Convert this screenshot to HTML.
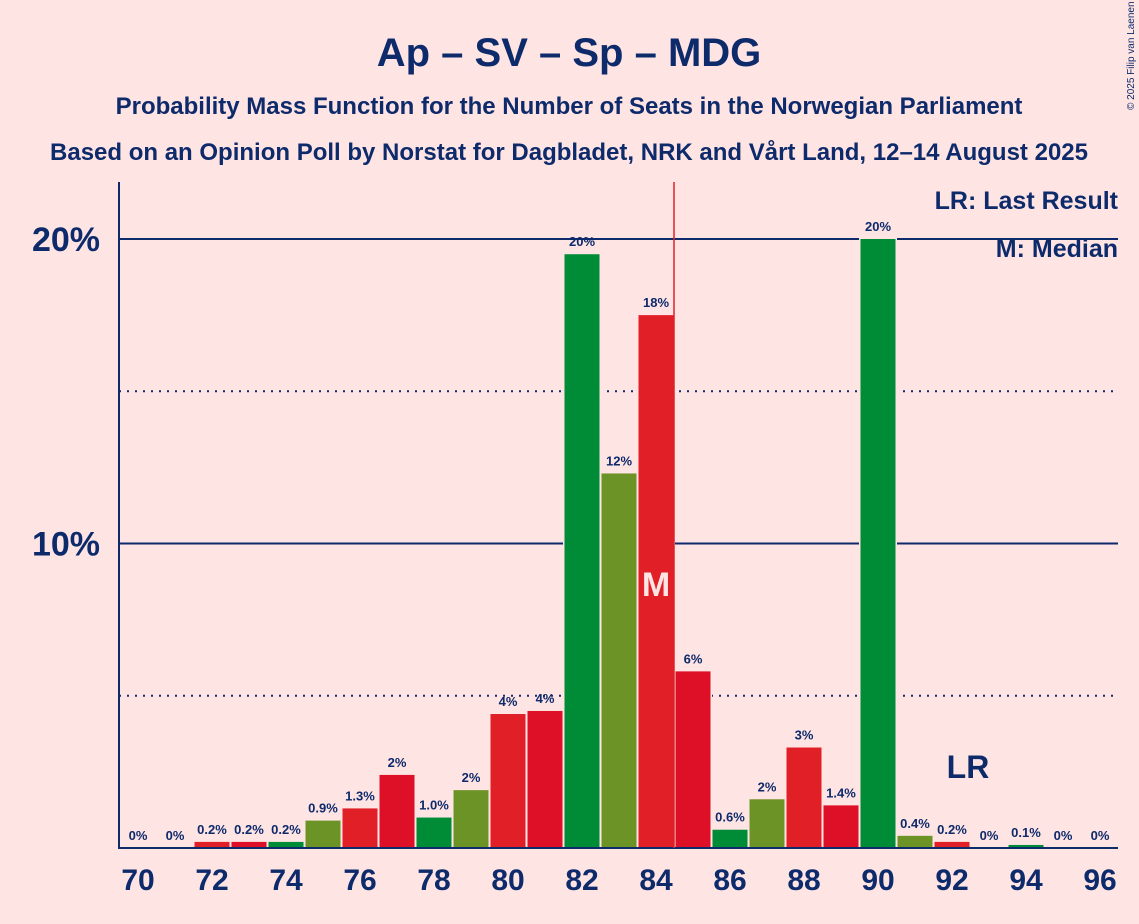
<!DOCTYPE html>
<html><head><meta charset="utf-8"><style>
body{margin:0;background:#ffe4e4;}
svg{display:block;font-family:"Liberation Sans",sans-serif;}
</style></head><body>
<svg id="chart" width="1139" height="924" xmlns="http://www.w3.org/2000/svg">
<rect width="1139" height="924" fill="#ffe4e4"/>
<text x="569" y="66" text-anchor="middle" font-size="40" font-weight="bold" fill="#0d2a6b">Ap – SV – Sp – MDG</text>
<text x="569" y="114" text-anchor="middle" font-size="24" font-weight="bold" fill="#0d2a6b">Probability Mass Function for the Number of Seats in the Norwegian Parliament</text>
<text x="569" y="160" text-anchor="middle" font-size="24" font-weight="bold" fill="#0d2a6b">Based on an Opinion Poll by Norstat for Dagbladet, NRK and Vårt Land, 12–14 August 2025</text>
<text x="1134" y="110" font-size="10" fill="#0d2a6b" transform="rotate(-90 1134 110)">© 2025 Filip van Laenen</text>
<g id="grid"></g>
<g id="bars"></g>
<g id="labels"></g>
<line x1="119" y1="182" x2="119" y2="849" stroke="#0d2a6b" stroke-width="2"/>
<line x1="119" y1="848" x2="1118" y2="848" stroke="#0d2a6b" stroke-width="2"/>
<line x1="674" y1="182" x2="674" y2="848" stroke="#e0202a" stroke-width="1.5"/>
<text x="1118" y="209" text-anchor="end" font-size="25" font-weight="bold" fill="#0d2a6b">LR: Last Result</text>
<text x="1118" y="257" text-anchor="end" font-size="25" font-weight="bold" fill="#0d2a6b">M: Median</text>
</svg>
<script>
const seats=[70,71,72,73,74,75,76,77,78,79,80,81,82,83,84,85,86,87,88,89,90,91,92,93,94,95,96];
const probs=[0,0,0.2,0.2,0.2,0.9,1.3,2.4,1.0,1.9,4.4,4.5,19.5,12.3,17.5,5.8,0.6,1.6,3.3,1.4,20.0,0.4,0.2,0,0.1,0,0];
const valueLabels=["0%","0%","0.2%","0.2%","0.2%","0.9%","1.3%","2%","1.0%","2%","4%","4%","20%","12%","18%","6%","0.6%","2%","3%","1.4%","20%","0.4%","0.2%","0%","0.1%","0%","0%"];
const yTicks=[10,20];
const yTickLabels=["10%","20%"];
const dottedTicks=[5,15];
const xTickSeats=[70,72,74,76,78,80,82,84,86,88,90,92,94,96];
const medianSeat=84;
const lastResultSeat=92;
const NS="http://www.w3.org/2000/svg";
const x=s=>138+(s-70)*37;
const y=v=>848-v*30.45;
const colors=["#008c36","#6b9325","#e01f27","#dd1028"];
function mk(tag,attrs,parent){const e=document.createElementNS(NS,tag);for(const k in attrs)e.setAttribute(k,attrs[k]);parent.appendChild(e);return e;}
const grid=document.getElementById('grid'),bars=document.getElementById('bars'),labels=document.getElementById('labels');
yTicks.forEach((t,i)=>{
  const l=mk('line',{x1:119,x2:1118,y1:y(t),y2:y(t),stroke:'#0d2a6b','stroke-width':2},grid);
  
  
  const tx=mk('text',{x:100,y:y(t)+12,'text-anchor':'end','font-size':34,'font-weight':'bold',fill:'#0d2a6b'},grid);
  tx.textContent=yTickLabels[i];
  
  
});
dottedTicks.forEach(t=>{
  const l=mk('line',{x1:119,x2:1118,y1:y(t),y2:y(t),stroke:'#0d2a6b','stroke-width':2,'stroke-dasharray':'2 6'},grid);
  
  
});
seats.forEach((s,i)=>{
  const v=probs[i];
  const c=colors[((s-70)%4+4)%4];
  const h=v*30.45;
  const bg=mk('rect',{x:x(s)-19,y:y(v)-1,width:38,height:h+1,fill:'#ffe4e4'},bars);
  
  
  const r=mk('rect',{x:x(s)-17.5,y:y(v),width:35,height:h,fill:c},bars);
  
  
  const t=mk('text',{x:x(s),y:y(v)-8,'text-anchor':'middle','font-size':13,'font-weight':'bold',fill:'#0d2a6b'},labels);
  t.textContent=valueLabels[i];
  
  
});
xTickSeats.forEach(s=>{
  const t=mk('text',{x:x(s),y:890,'text-anchor':'middle','font-size':30,'font-weight':'bold',fill:'#0d2a6b'},labels);
  t.textContent=s;
  
  
});
const m=mk('text',{x:x(medianSeat),y:596,'text-anchor':'middle','font-size':34,'font-weight':'bold',fill:'#ffe4e4'},labels);
m.textContent='M';


const lr=mk('text',{x:x(lastResultSeat)+16,y:778,'text-anchor':'middle','font-size':32,'font-weight':'bold',fill:'#0d2a6b'},labels);
lr.textContent='LR';


</script>
</body></html>
